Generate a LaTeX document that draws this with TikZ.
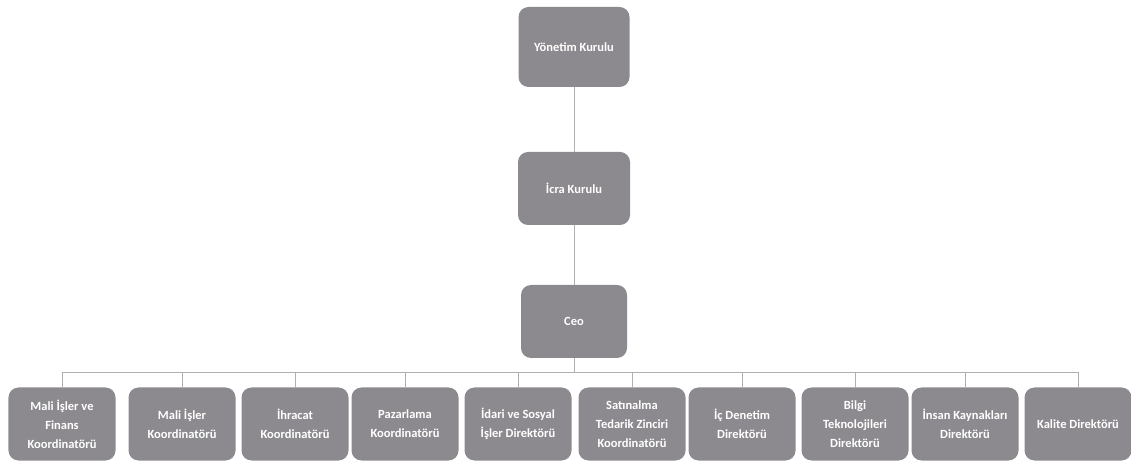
\documentclass[tikz,border=0pt]{standalone}
\usepackage{fontspec}
\setmainfont{Carlito}
\definecolor{boxgray}{RGB}{140,138,142}
\definecolor{linegray}{RGB}{175,175,175}
\begin{document}
\begin{tikzpicture}[x=1bp,y=-1bp,
  orgbox/.style={fill=boxgray, rounded corners=10bp, text=white, align=center,
    font=\fontsize{12.5bp}{19bp}\selectfont\bfseries, inner sep=0pt,
    minimum width=#1, minimum height=73bp},
  orgbox/.default=107bp,
  link/.style={draw=linegray, line width=0.7bp}]
\useasboundingbox (0,0) rectangle (1131,462);
\node[orgbox=111bp, minimum height=80bp] (yk) at (574,47) {Yönetim Kurulu};
\node[orgbox=112bp] (ik) at (574,188.5) {İcra Kurulu};
\node[orgbox=106bp] (ceo) at (574,321.5) {Ceo};
\node[orgbox] (c1) at (62,424) {Mali İşler ve\\Finans\\Koordinatörü};
\node[orgbox] (c2) at (182,424) {Mali İşler\\Koordinatörü};
\node[orgbox] (c3) at (295,424) {İhracat\\Koordinatörü};
\node[orgbox] (c4) at (405,424) {Pazarlama\\Koordinatörü};
\node[orgbox] (c5) at (518,424) {İdari ve Sosyal\\İşler Direktörü};
\node[orgbox] (c6) at (632,424) {Satınalma\\Tedarik Zinciri\\Koordinatörü};
\node[orgbox] (c7) at (742,424) {İç Denetim\\Direktörü};
\node[orgbox] (c8) at (855,424) {Bilgi\\Teknolojileri\\Direktörü};
\node[orgbox] (c9) at (965,424) {İnsan Kaynakları\\Direktörü};
\node[orgbox] (c10) at (1078,424) {Kalite Direktörü};
\draw[link] (yk.south) -- (ik.north);
\draw[link] (ik.south) -- (ceo.north);
\coordinate (bar) at (574,372);
\draw[link] (ceo.south) -- (bar);
\draw[link] (bar -| c1.north) -- (bar -| c10.north);
\foreach \c in {c1,c2,c3,c4,c5,c6,c7,c8,c9,c10}
  \draw[link] (bar -| \c.north) -- (\c.north);
\end{tikzpicture}
\end{document}
